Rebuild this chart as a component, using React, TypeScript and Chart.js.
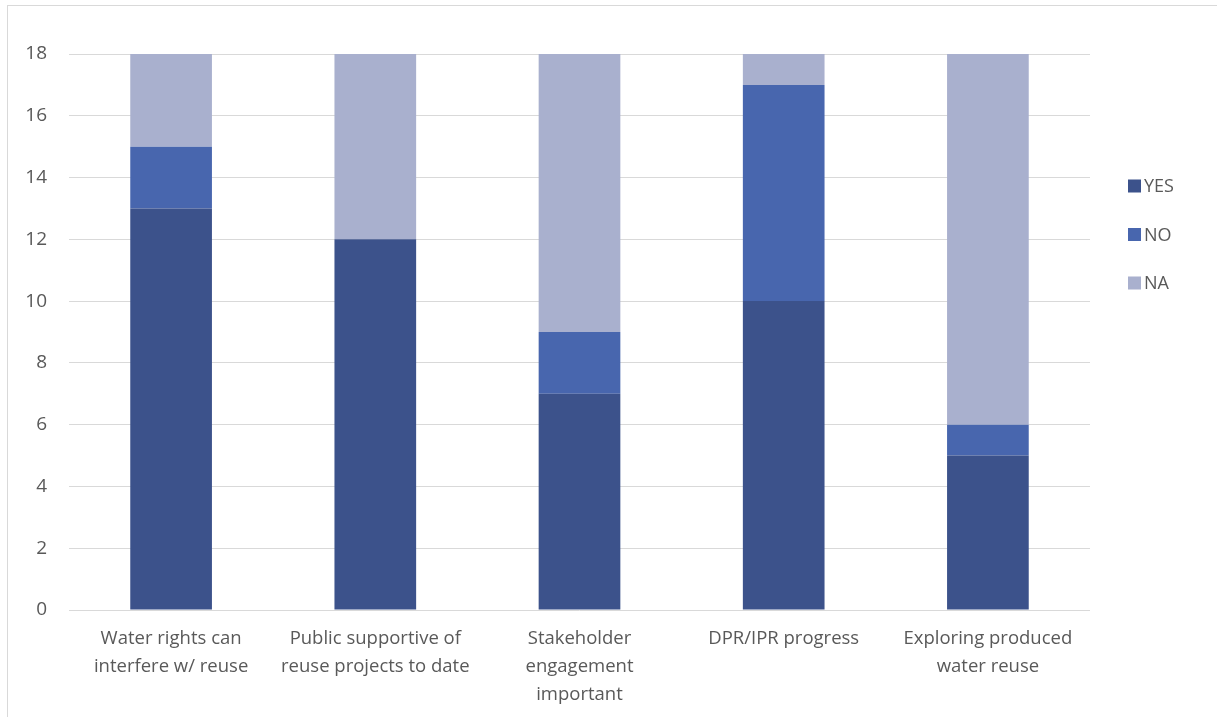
import React, { useEffect, useRef } from "react";
import { Chart, registerables } from "chart.js";

Chart.register(...registerables);

const categories: string[][] = [
  ["Water rights can", "interfere w/ reuse"],
  ["Public supportive of", "reuse projects to date"],
  ["Stakeholder", "engagement", "important"],
  ["DPR/IPR progress"],
  ["Exploring produced", "water reuse"],
];

const yesValues = [13, 12, 7, 10, 5];
const noValues = [2, 0, 2, 7, 1];
const naValues = [3, 6, 9, 1, 12];

const seriesNames = ["YES", "NO", "NA"];
const seriesColors = ["#3C528B", "#4866AE", "#A9B0CE"];

const FONT = "'Open Sans', Lato, sans-serif";
const TEXT_COLOR = "#595959";

// Vertical legend drawn to the right of the plot area
const sideLegend = {
  id: "sideLegend",
  afterDraw(chart: Chart) {
    const { ctx, chartArea } = chart;
    const x = chartArea.right + 38;
    const startY = chartArea.top + 132;
    const gap = 48.5;
    ctx.save();
    ctx.font = `18px ${FONT}`;
    ctx.textBaseline = "middle";
    ctx.textAlign = "left";
    chart.data.datasets.forEach((ds, i) => {
      const y = startY + i * gap;
      ctx.fillStyle = ds.backgroundColor as string;
      ctx.fillRect(x, y - 6.5, 13, 13);
      ctx.fillStyle = TEXT_COLOR;
      ctx.fillText(ds.label as string, x + 16, y + 1);
    });
    ctx.restore();
  },
};

export default function App() {
  const canvasRef = useRef<HTMLCanvasElement | null>(null);

  useEffect(() => {
    document.body.style.margin = "0";
    const canvas = canvasRef.current;
    if (!canvas) return;
    const values = [yesValues, noValues, naValues];
    const chart = new Chart(canvas, {
      type: "bar",
      data: {
        labels: categories,
        datasets: seriesNames.map((name, i) => ({
          label: name,
          data: values[i],
          backgroundColor: seriesColors[i],
          borderWidth: 0,
          categoryPercentage: 1,
          barPercentage: 0.4,
        })),
      },
      options: {
        animation: false,
        responsive: false,
        maintainAspectRatio: false,
        layout: { padding: { top: 48, right: 127, left: 0, bottom: 0 } },
        plugins: {
          legend: { display: false },
          tooltip: { enabled: false },
        },
        scales: {
          x: {
            stacked: true,
            grid: { display: false, drawTicks: false },
            border: { display: false },
            ticks: {
              color: TEXT_COLOR,
              font: { family: FONT, size: 18.5, lineHeight: 1.5 },
              padding: 15,
              maxRotation: 0,
              autoSkip: false,
            },
            afterFit(scale: any) {
              scale.height = 107;
            },
          },
          y: {
            stacked: true,
            min: 0,
            max: 18,
            grid: { color: "#D9D9D9", lineWidth: 1, drawTicks: false },
            border: { display: false },
            ticks: {
              stepSize: 2,
              color: TEXT_COLOR,
              font: { family: FONT, size: 19 },
              padding: 22,
            },
            afterFit(scale: any) {
              scale.width = 61;
            },
          },
        },
      },
      plugins: [sideLegend],
    });
    return () => chart.destroy();
  }, []);

  return (
    <div
      style={{
        position: "absolute",
        left: 7,
        top: 5,
        width: 1240,
        height: 740,
        border: "1px solid #D9D9D9",
        background: "#fff",
      }}
    >
      <canvas ref={canvasRef} width={1209} height={711} style={{ display: "block" }} />
    </div>
  );
}
